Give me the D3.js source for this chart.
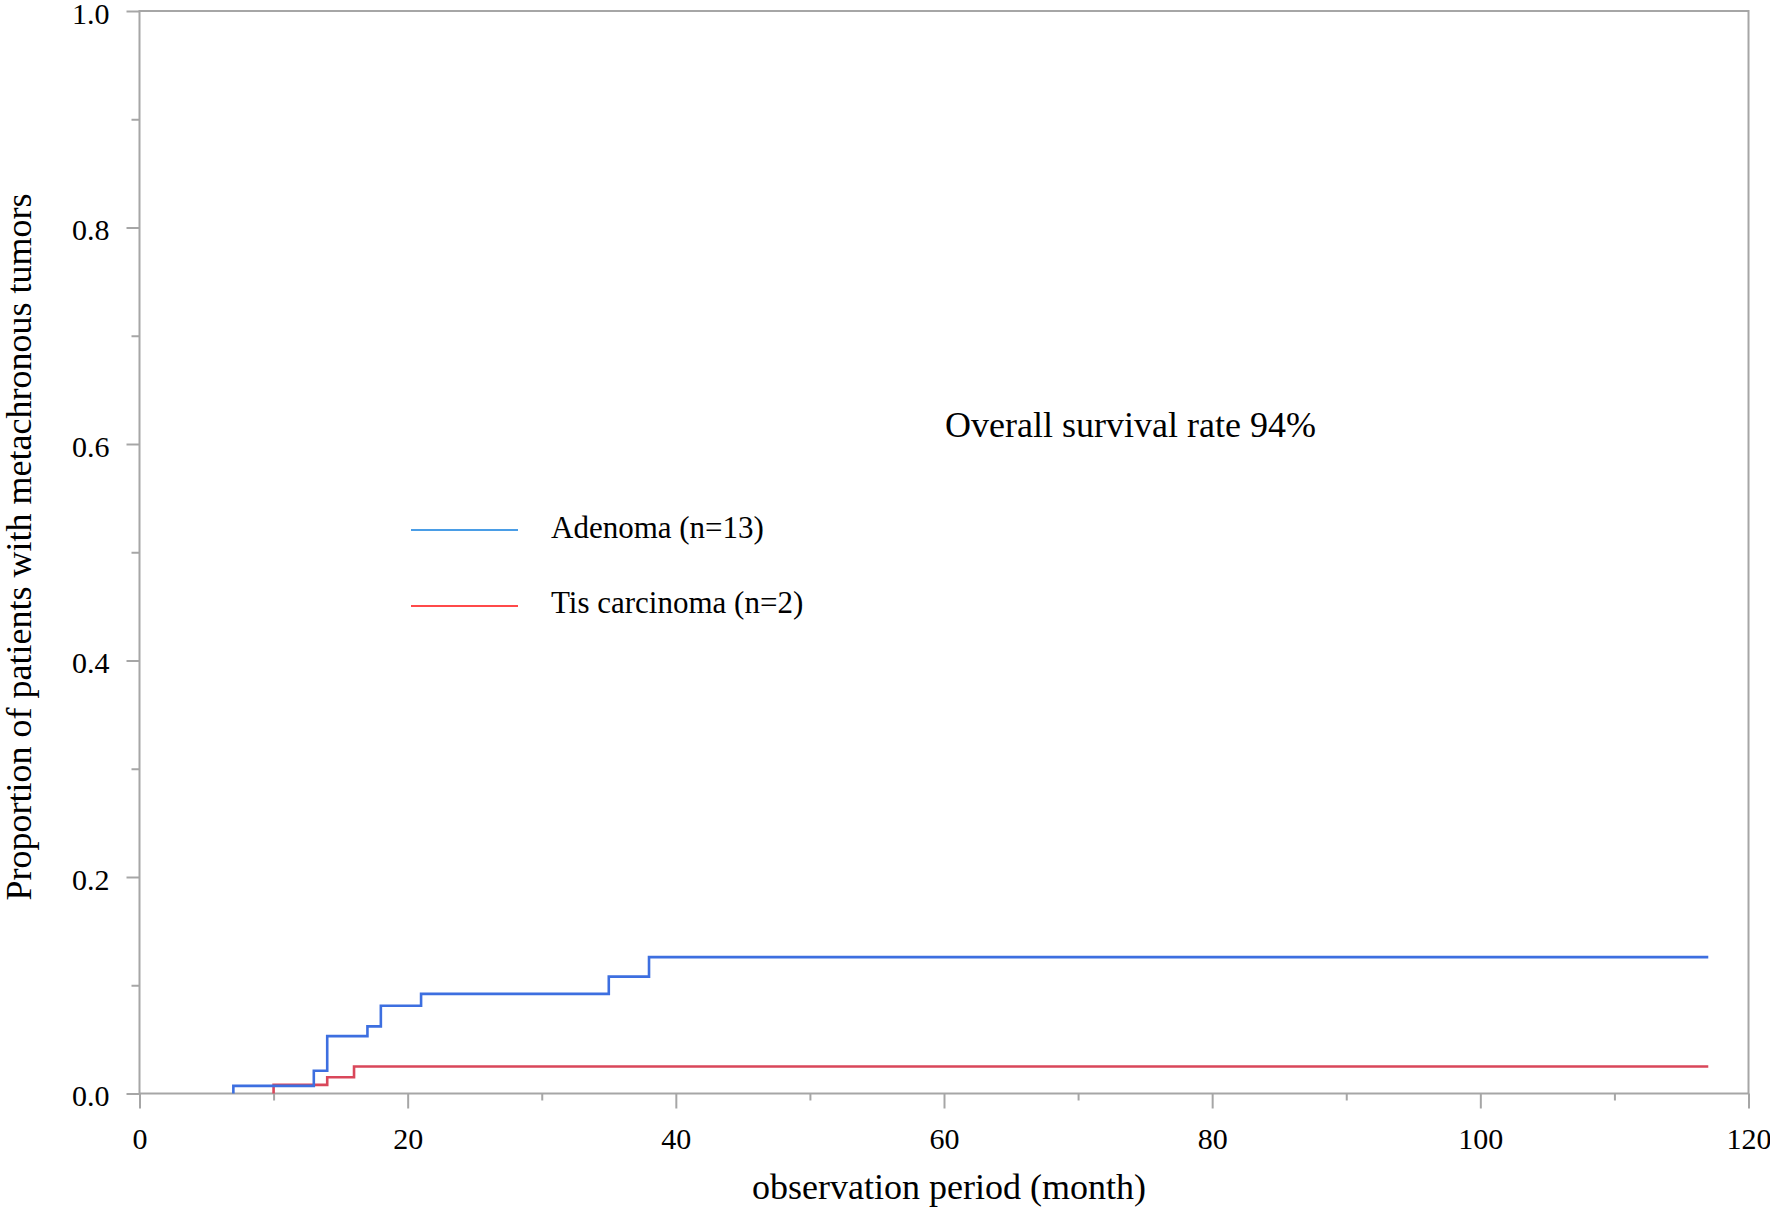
<!DOCTYPE html>
<html>
<head>
<meta charset="utf-8">
<script src="https://cdn.jsdelivr.net/npm/d3@7"></script>
<style>
  html, body { margin: 0; padding: 0; background: #fff; }
  svg { display: block; }
  text { font-family: "Liberation Serif", "DejaVu Serif", serif; fill: #000; }
</style>
</head>
<body>
<svg id="chart" width="1770" height="1210"></svg>
<script>
// ---- data ----
const adenomaTime  = [7, 7, 13, 14, 17, 18, 21, 35, 38, 117];
const adenomaValue = [0, 0.007, 0.021, 0.053, 0.062, 0.081, 0.092, 0.108, 0.126, 0.126];
const tisTime  = [10, 10, 14, 16, 117];
const tisValue = [0, 0.008, 0.015, 0.025, 0.025];
const xMajorTicks = [0, 20, 40, 60, 80, 100, 120];
const xMinorTicks = [10, 30, 50, 70, 90, 110];
const yMajorTicks = [0, 0.2, 0.4, 0.6, 0.8, 1.0];
const yMinorTicks = [0.1, 0.3, 0.5, 0.7, 0.9];
const seriesNames = ["Adenoma (n=13)", "Tis carcinoma (n=2)"];
const annotation = "Overall survival rate 94%";
const xTitle = "observation period (month)";
const yTitle = "Proportion of patients with metachronous tumors";

// ---- layout ----
const svg = d3.select("#chart");
const plotLeft = 139.5, plotRight = 1748.5, plotTop = 11, plotBottom = 1093.5;
const axisColor = "#a6a6a6";
const x = d3.scaleLinear().domain([0, 120]).range([plotLeft, plotRight]);
const y = d3.scaleLinear().domain([0, 1]).range([plotBottom, plotTop]);

// frame
svg.append("rect")
  .attr("x", plotLeft).attr("y", plotTop)
  .attr("width", plotRight - plotLeft).attr("height", plotBottom - plotTop)
  .attr("fill", "none").attr("stroke", axisColor).attr("stroke-width", 2);

function styleAxis(g) {
  g.select(".domain").remove();
  g.selectAll(".tick line").attr("stroke", axisColor).attr("stroke-width", 2);
}

// x axis
svg.append("g").attr("transform", `translate(0,${plotBottom})`)
  .call(d3.axisBottom(x).tickValues(xMinorTicks).tickSize(7).tickFormat(""))
  .call(styleAxis);
const gx = svg.append("g").attr("transform", `translate(0,${plotBottom})`)
  .call(d3.axisBottom(x).tickValues(xMajorTicks).tickSize(15).tickPadding(0).tickFormat(d3.format("d")))
  .call(styleAxis);
gx.selectAll(".tick text")
  .attr("y", 55).attr("dy", null)
  .style("font-family", "'Liberation Serif', serif")
  .style("font-size", "30px").attr("fill", "#000");

// y axis
svg.append("g").attr("transform", `translate(${plotLeft},0)`)
  .call(d3.axisLeft(y).tickValues(yMinorTicks).tickSize(8).tickFormat(""))
  .call(styleAxis);
const gy = svg.append("g").attr("transform", `translate(${plotLeft},0)`)
  .call(d3.axisLeft(y).tickValues(yMajorTicks).tickSize(13).tickPadding(0).tickFormat(d3.format(".1f")))
  .call(styleAxis);
gy.selectAll(".tick text")
  .attr("x", -30).attr("dy", "0.4em")
  .style("font-family", "'Liberation Serif', serif")
  .style("font-size", "30px").attr("fill", "#000");

// curves
const line = d3.line()
  .x(d => x(d[0])).y(d => y(d[1]))
  .curve(d3.curveStepAfter);
const adenoma = adenomaTime.map((t, i) => [t, adenomaValue[i]]);
const tis = tisTime.map((t, i) => [t, tisValue[i]]);

svg.append("path").datum(tis)
  .attr("d", line).attr("fill", "none")
  .attr("stroke", "#d9475a").attr("stroke-width", 2.6);
svg.append("path").datum(adenoma)
  .attr("d", line).attr("fill", "none")
  .attr("stroke", "#3d6fe0").attr("stroke-width", 2.6);

// legend
const legendColors = ["#4a9de6", "#ff4a4a"];
const legendY = [530, 606];
const legendTextY = [538, 613];
seriesNames.forEach((name, i) => {
  svg.append("line")
    .attr("x1", 411).attr("x2", 518)
    .attr("y1", legendY[i]).attr("y2", legendY[i])
    .attr("stroke", legendColors[i]).attr("stroke-width", 2);
  svg.append("text")
    .attr("x", 551).attr("y", legendTextY[i])
    .style("font-size", "31px")
    .text(name);
});

// annotation
svg.append("text")
  .attr("x", 945).attr("y", 437)
  .style("font-size", "36px")
  .text(annotation);

// axis titles
svg.append("text")
  .attr("x", 949).attr("y", 1199)
  .attr("text-anchor", "middle")
  .style("font-size", "36px")
  .text(xTitle);
svg.append("text")
  .attr("transform", "translate(31,547) rotate(-90)")
  .attr("text-anchor", "middle")
  .style("font-size", "36px")
  .text(yTitle);
</script>
</body>
</html>
